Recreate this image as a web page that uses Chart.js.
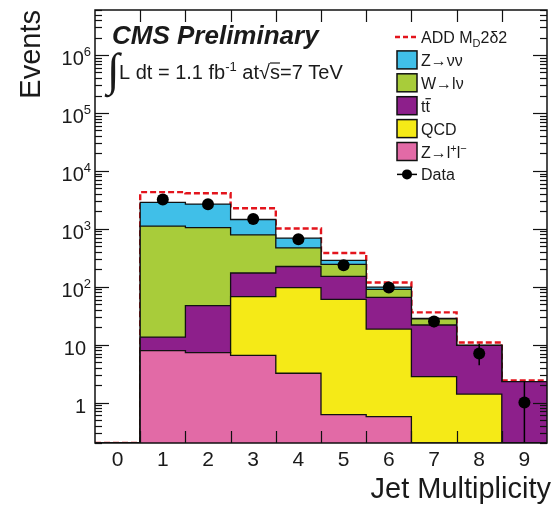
<!DOCTYPE html>
<html>
<head>
<meta charset="utf-8">
<script src="https://cdn.jsdelivr.net/npm/chart.js@4.4.1/dist/chart.umd.min.js"></script>
<style>
  html, body { margin: 0; padding: 0; background: #fff; }
</style>
</head>
<body>
<canvas id="jetChart" width="553" height="507"></canvas>
<script>
// jet multiplicity bins and per-process event yields
const jetBins = [0, 1, 2, 3, 4, 5, 6, 7, 8, 9];
const zll   = [0, 7.9, 7.3, 6.5, 3.2, 0.62, 0.57, 0, 0, 0];
const qcd   = [0, 0, 0, 61, 93, 60, 18, 2.8, 1.4, 0];
const ttbar = [0, 5.6, 40, 105, 127, 90, 47, 19, 8.3, 2.3];
const wlnu  = [0, 1100, 1000, 610, 245, 93, 24, 6, 0, 0];
const znunu = [0, 1740, 1620, 665, 224, 42, 9, 0.5, 0, 0];
// ADD (M_D = 2 TeV, delta = 2) expectation on top of the background
const addTotal = [0, 4300, 4100, 2270, 1010, 383, 118, 36, 10.9, 2.4];
const dataCounts  = [0, 3200, 2650, 1480, 660, 235, 97, 25, 7, 1];
const dataErrUp   = [0, 57, 52, 39, 26, 16, 10, 5, 3.3, 1.3];
const dataErrDown = [0, 57, 51, 38, 26, 15, 10, 5, 2.6, 1];
const yTicks = [1, 10, 100, 1000, 1e4, 1e5, 1e6];

const Y_MIN = 0.2, Y_MAX = 6e6;
const FONT = '"Liberation Sans", Arial, Helvetica, sans-serif';
const INK = '#1a1a1a';

const stackDefs = [
  { name: 'zll',   values: zll,   color: '#e26aa6' },
  { name: 'qcd',   values: qcd,   color: '#f5ea17' },
  { name: 'ttbar', values: ttbar, color: '#8d1f8b' },
  { name: 'wlnu',  values: wlnu,  color: '#a8cc3a' },
  { name: 'znunu', values: znunu, color: '#40bfe8' },
];

// histogram outline: two points per bin, at the low and high edge
function stepPoints(vals) {
  return jetBins.flatMap((c, i) => {
    const v = Math.max(vals[i], Y_MIN);
    return [{ x: c - 0.5, y: v }, { x: c + 0.5, y: v }];
  });
}

let running = jetBins.map(() => 0);
const stackSets = stackDefs.map(d => {
  running = running.map((s, i) => s + d.values[i]);
  return {
    label: d.name,
    data: stepPoints(running),
    borderColor: '#111',
    borderWidth: 1.3,
    backgroundColor: d.color,
    fill: 'start',
    pointRadius: 0,
  };
});

const dataSet = {
  label: 'data',
  data: jetBins.filter((c, i) => dataCounts[i] > 0).map(c => ({ x: c, y: dataCounts[c] })),
  showLine: false,
  pointRadius: 6,
  pointBackgroundColor: '#000',
  pointBorderColor: '#000',
  pointBorderWidth: 0,
};

const addSet = {
  label: 'add',
  data: stepPoints(addTotal),
  borderColor: '#e3141c',
  borderWidth: 2.4,
  borderDash: [6, 3],
  fill: false,
  pointRadius: 0,
};

// draws a run of text pieces (for sub/superscripts), returns end x
function drawRich(ctx, x, y, pieces, align) {
  const widths = pieces.map(p => {
    ctx.font = (p.weight || '') + ' ' + p.size + 'px ' + (p.family || FONT);
    return ctx.measureText(p.text).width;
  });
  let cx = align === 'right' ? x - widths.reduce((a, b) => a + b, 0) : x;
  pieces.forEach((p, i) => {
    ctx.font = (p.weight || '') + ' ' + p.size + 'px ' + (p.family || FONT);
    ctx.fillText(p.text, cx, y + (p.dy || 0));
    if (p.bar) {
      ctx.save();
      ctx.lineWidth = 1.2;
      ctx.strokeStyle = ctx.fillStyle;
      ctx.beginPath();
      ctx.moveTo(cx + p.bar[0], y + p.bar[2]);
      ctx.lineTo(cx + widths[i] - p.bar[1], y + p.bar[2]);
      ctx.stroke();
      ctx.restore();
    }
    cx += widths[i];
  });
  return cx;
}

const errorBars = {
  id: 'errorBars',
  afterDatasetsDraw(chart) {
    const { ctx, chartArea: a, scales: { x, y } } = chart;
    ctx.save();
    ctx.beginPath();
    ctx.rect(a.left, a.top, a.right - a.left, a.bottom - a.top);
    ctx.clip();
    ctx.strokeStyle = '#000';
    ctx.lineWidth = 1.5;
    jetBins.forEach((c, i) => {
      if (dataCounts[i] <= 0) return;
      const px = x.getPixelForValue(c);
      const lo = dataCounts[i] - dataErrDown[i];
      const yTop = y.getPixelForValue(dataCounts[i] + dataErrUp[i]);
      const yBot = lo > 0 ? y.getPixelForValue(lo) : a.bottom;
      ctx.beginPath();
      ctx.moveTo(px, yTop);
      ctx.lineTo(px, yBot);
      ctx.stroke();
    });
    ctx.restore();
  }
};

const frameAndText = {
  id: 'frameAndText',
  afterDraw(chart) {
    const { ctx, chartArea: a, scales: { x, y } } = chart;
    const seg = (x1, y1, x2, y2) => { ctx.beginPath(); ctx.moveTo(x1, y1); ctx.lineTo(x2, y2); ctx.stroke(); };
    ctx.save();
    ctx.strokeStyle = '#111';
    ctx.lineWidth = 1.2;

    // log ticks, inside the frame on both sides
    for (let e = -1; e <= 6; e++) {
      for (let m = 1; m <= 9; m++) {
        const v = m * Math.pow(10, e);
        if (v < Y_MIN * 0.999 || v > Y_MAX * 1.001) continue;
        const py = Math.round(y.getPixelForValue(v)) + 0.5;
        const len = m === 1 ? 14 : 7;
        seg(a.left, py, a.left + len, py);
        seg(a.right - len, py, a.right, py);
      }
    }
    // bin edge ticks, top and bottom
    jetBins.slice(1).forEach(c => {
      const px = Math.round(x.getPixelForValue(c - 0.5)) + 0.5;
      seg(px, a.bottom, px, a.bottom - 12);
      seg(px, a.top, px, a.top + 12);
    });
    ctx.lineWidth = 1.5;
    ctx.strokeRect(a.left, a.top, a.right - a.left, a.bottom - a.top);

    ctx.fillStyle = INK;
    ctx.textBaseline = 'alphabetic';

    // y tick labels
    yTicks.forEach(v => {
      const py = y.getPixelForValue(v) + 10;
      const exp = Math.round(Math.log10(v));
      if (exp <= 1) {
        drawRich(ctx, 86, py, [{ text: String(v), size: 20 }], 'right');
      } else {
        drawRich(ctx, 91, py, [
          { text: '10', size: 20 },
          { text: String(exp), size: 13, dy: -9 },
        ], 'right');
      }
    });

    // x tick labels at bin centres
    ctx.textAlign = 'center';
    ctx.font = '21px ' + FONT;
    jetBins.forEach(c => ctx.fillText(String(c), x.getPixelForValue(c), 466));
    ctx.textAlign = 'left';

    // axis titles
    ctx.font = '29px ' + FONT;
    ctx.textAlign = 'right';
    ctx.fillText('Jet Multiplicity', 551, 498);
    ctx.save();
    ctx.translate(40, a.top);
    ctx.rotate(-Math.PI / 2);
    ctx.textAlign = 'right';
    ctx.fillText('Events', 0, 0);
    ctx.restore();
    ctx.textAlign = 'left';

    // experiment label and luminosity
    ctx.font = 'italic bold 26px ' + FONT;
    ctx.fillText('CMS Preliminary', 112, 44);
    ctx.font = '46px "Liberation Serif", serif';
    ctx.fillText('\u222B', 107, 85);
    drawRich(ctx, 119, 79, [
      { text: 'L dt = 1.1 fb', size: 20 },
      { text: '-1', size: 13, dy: -8 },
      { text: ' at', size: 20 },
      { text: '\u221A', size: 20 },
      { text: 's', size: 20, bar: [0, 0, -16] },
      { text: '=7 TeV', size: 20 },
    ]);

    // legend
    const lx = 397, tx = 421, row0 = 37, step = 22.9;
    ctx.strokeStyle = '#e3141c';
    ctx.lineWidth = 2.4;
    ctx.setLineDash([5, 3]);
    seg(lx - 2, row0, lx + 21, row0);
    ctx.setLineDash([]);
    ctx.fillStyle = INK;
    drawRich(ctx, tx, row0 + 6, [
      { text: 'ADD M', size: 16 },
      { text: 'D', size: 11, dy: 4 },
      { text: '2\u03B42', size: 16 },
    ]);

    const legendRows = [
      { color: stackDefs[4].color, pieces: [{ text: 'Z\u2192\u03BD\u03BD', size: 16 }] },
      { color: stackDefs[3].color, pieces: [{ text: 'W\u2192l\u03BD', size: 16 }] },
      { color: stackDefs[2].color, pieces: [{ text: 't', size: 16 }, { text: 't', size: 16, bar: [0, -1, -13] }] },
      { color: stackDefs[1].color, pieces: [{ text: 'QCD', size: 16 }] },
      { color: stackDefs[0].color, pieces: [
        { text: 'Z\u2192l', size: 16 }, { text: '+', size: 11, dy: -6 },
        { text: 'l', size: 16 }, { text: '\u2212', size: 11, dy: -6 },
      ] },
    ];
    legendRows.forEach((r, i) => {
      const cy = row0 + step * (i + 1);
      ctx.fillStyle = r.color;
      ctx.fillRect(lx, cy - 9, 20, 18);
      ctx.strokeStyle = '#111';
      ctx.lineWidth = 1.5;
      ctx.strokeRect(lx, cy - 9, 20, 18);
      ctx.fillStyle = INK;
      drawRich(ctx, tx, cy + 6, r.pieces);
    });

    const dy = row0 + step * 6;
    ctx.strokeStyle = '#000';
    ctx.lineWidth = 1.5;
    seg(lx, dy, lx + 20, dy);
    ctx.fillStyle = '#000';
    ctx.beginPath();
    ctx.arc(lx + 10, dy, 5, 0, Math.PI * 2);
    ctx.fill();
    ctx.fillStyle = INK;
    drawRich(ctx, tx, dy + 6, [{ text: 'Data', size: 16 }]);

    ctx.restore();
  }
};

new Chart(document.getElementById('jetChart').getContext('2d'), {
  type: 'line',
  data: { datasets: [dataSet, ...stackSets, addSet] },
  options: {
    responsive: false,
    animation: false,
    layout: { padding: { left: 95, top: 10, right: 1, bottom: 64 } },
    plugins: { legend: { display: false }, tooltip: { enabled: false } },
    scales: {
      x: { type: 'linear', min: -0.5, max: 9.5, display: false },
      y: { type: 'logarithmic', min: Y_MIN, max: Y_MAX, display: false },
    },
    elements: { line: { tension: 0 } },
  },
  plugins: [errorBars, frameAndText],
});
</script>
</body>
</html>
